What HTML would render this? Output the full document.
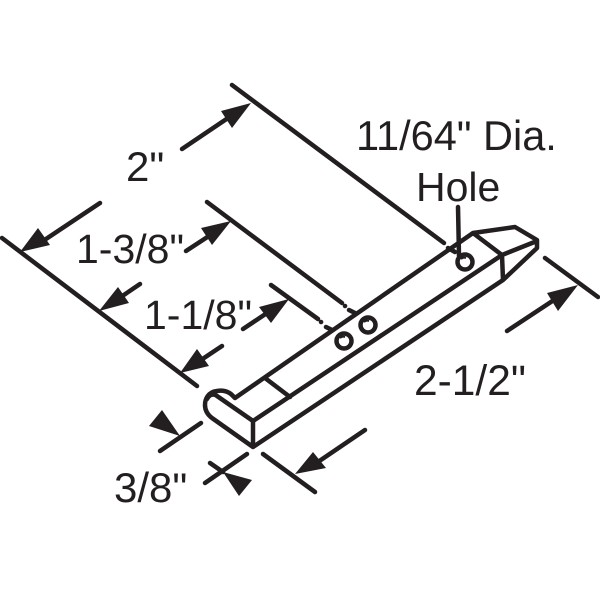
<!DOCTYPE html>
<html><head><meta charset="utf-8"><style>html,body{margin:0;padding:0;background:#fff}svg{display:block}text{font-family:"Liberation Sans",Arial,sans-serif;font-size:41px;fill:#231f20}</style></head>
<body><svg width="600" height="600" viewBox="0 0 600 600" xmlns="http://www.w3.org/2000/svg">
<g fill="none" stroke="#231f20" stroke-width="4.5" stroke-linecap="round" stroke-linejoin="round">
<path d="M232 85L444 243M207 202L342 303M271 285L318 319M2 238L197 386M545 258L598 297M160 451L201 423M205 483L247 454M263 454L315 492"/>
<path d="M100 203L40 243M140 284L115 301M222 346L195 364M182 149L228 118M186 251L212 234M243 329L270 311M507 331L560 296M365 430L312 466M223 472L210 463"/>
<path d="M345 306h.1M321 322h.1M448 248l7 4M349 310l6 3M326 327l6 3"/>
<path d="M458 207L459 256"/>
<path d="M235 398L232 395C228 391 222 390 217 391C208 392 205 399 205 405C205 411 208 415 212 418L253 447L253 421L217 396C213 393 209 395 207 399M235 398L473 233L515 227L537 240L537 248L503 280L253 447M253 421L502 255L503 280M473 233L502 255L537 241M265 378L290 397"/>
<circle cx="465" cy="262" r="7.5"/><circle cx="344" cy="341" r="7.5"/><circle cx="368" cy="325" r="7.5"/>
</g>
<g fill="none" stroke="#231f20" stroke-width="2">
<path d="M461 259a5 5 0 0 1 5 -1M340 338a5 5 0 0 1 5 -1M364 322a5 5 0 0 1 5 -1"/>
</g>
<g fill="#231f20">
<path d="M20 252L38 228L50 245ZM99 311L118 287L129 303ZM180 373L197 349L209 366ZM251 103L221 111L232 128ZM231 221L201 228L212 245ZM289 299L259 307L271 323ZM578 285L547 293L558 311ZM180 436L162 410L149 426ZM223 472L252 480L239 496ZM295 474L313 452L326 468Z"/>
</g>
<text x="126" y="181" style="font-size:42px">2"</text>
<text x="76" y="263">1-3/8"</text>
<text x="144" y="329">1-1/8"</text>
<text x="356" y="150" style="font-size:41.5px">11/64" Dia.</text>
<text x="416" y="201">Hole</text>
<text x="414" y="395" style="font-size:42.5px">2-1/2"</text>
<text x="114" y="502" style="font-size:42px">3/8"</text>
</svg></body></html>
